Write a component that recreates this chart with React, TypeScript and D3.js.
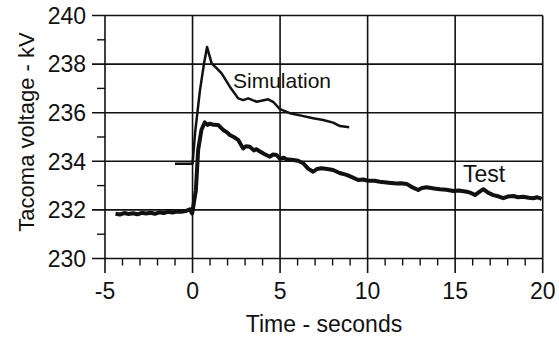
import React from "react";
import * as d3 from "d3";

// Simulation trace (time in s, voltage in kV)
const simTime = [-1, 0, 0.15, 0.42, 0.65, 0.83, 1.09, 1.37, 1.66, 2.13, 2.61, 2.89, 3.18, 3.66, 4.0, 4.32, 4.6, 4.99, 5.56, 6.2, 6.89, 7.46, 8.03, 8.42, 8.95];
const simVoltage = [233.9, 233.9, 235.2, 236.9, 238.0, 238.7, 238.03, 237.83, 237.62, 237.07, 236.59, 236.52, 236.59, 236.45, 236.5, 236.55, 236.45, 236.15, 235.98, 235.88, 235.77, 235.7, 235.59, 235.45, 235.4];

// Test (measured) trace
const testTime = [
  -4.4, -4.15, -3.9, -3.65, -3.4, -3.15, -2.9, -2.65, -2.4, -2.15, -1.9, -1.65, -1.4, -1.15, -0.9, -0.65, -0.4, -0.15, -0.02,
  0.1, 0.19, 0.32, 0.51, 0.7, 0.85, 0.99, 1.2, 1.46, 1.6, 1.75, 1.95, 2.13, 2.35, 2.61, 2.75, 2.89, 3.05, 3.27, 3.5, 3.65, 3.85,
  4.1, 4.42, 4.6, 4.8, 5.0, 5.2, 5.37, 5.75, 6.03, 6.32, 6.6, 6.89, 7.1, 7.37, 7.7, 8.03, 8.4, 8.8, 9.1, 9.46, 9.75, 10.03,
  10.4, 10.7, 11.2, 11.66, 11.9, 12.23, 12.5, 12.89, 13.1, 13.37, 13.8, 14.13, 14.5, 14.89, 15.2, 15.66, 15.9, 16.13, 16.4,
  16.61, 16.9, 17.18, 17.5, 17.75, 18.0, 18.32, 18.6, 18.89, 19.2, 19.46, 19.7, 19.94,
];
const testVoltage = [
  231.84, 231.81, 231.87, 231.83, 231.86, 231.82, 231.88, 231.85, 231.88, 231.84, 231.9, 231.87, 231.92, 231.89, 231.93, 231.92, 231.95, 232.02, 231.85,
  232.4, 232.8, 234.47, 235.3, 235.6, 235.5, 235.55, 235.5, 235.49, 235.4, 235.29, 235.2, 235.08, 235.0, 234.88, 234.7, 234.53, 234.62, 234.6, 234.45, 234.5, 234.4,
  234.3, 234.19, 234.28, 234.26, 234.1, 234.15, 234.08, 234.05, 234.02, 233.92, 233.7, 233.57, 233.68, 233.71, 233.68, 233.64, 233.52, 233.44, 233.35, 233.23, 233.25, 233.2,
  233.2, 233.16, 233.12, 233.09, 233.1, 233.07, 232.95, 232.82, 232.9, 232.93, 232.88, 232.85, 232.83, 232.78, 232.8, 232.75, 232.7, 232.61, 232.75,
  232.85, 232.7, 232.61, 232.55, 232.48, 232.55, 232.57, 232.52, 232.54, 232.5, 232.48, 232.52, 232.45,
];

const xTicks = [-5, 0, 5, 10, 15, 20];
const yTicks = [230, 232, 234, 236, 238, 240];

const font = "'Liberation Sans', Arial, sans-serif";
const ink = "#111";

export default function App() {
  const width = 559,
    height = 337;
  const x = d3.scaleLinear().domain([-5, 20]).range([105, 542.7]);
  const y = d3.scaleLinear().domain([230, 240]).range([258.5, 15.5]);

  const line = d3
    .line<[number, number]>()
    .x((d) => x(d[0]))
    .y((d) => y(d[1]));

  const sim = simTime.map((t, i) => [t, simVoltage[i]] as [number, number]);
  const test = testTime.map((t, i) => [t, testVoltage[i]] as [number, number]);

  const minorX = d3.range(-5, 21, 1).filter((v) => v % 5 !== 0);
  const minorY = d3.range(231, 240, 2);

  return (
    <svg
      width={width}
      height={height}
      style={{ position: "absolute", left: 0, top: 0, background: "#fff" }}
    >
      {/* horizontal grid + major y ticks */}
      {yTicks.map((v) => (
        <line key={"h" + v} x1={92} x2={x(20)} y1={y(v)} y2={y(v)} stroke={ink} strokeWidth={1.6} />
      ))}
      {/* vertical grid + major x ticks */}
      {xTicks.map((v) => (
        <line key={"v" + v} x1={x(v)} x2={x(v)} y1={y(240)} y2={273} stroke={ink} strokeWidth={1.6} />
      ))}
      {minorY.map((v) => (
        <line key={"my" + v} x1={97} x2={x(-5)} y1={y(v)} y2={y(v)} stroke={ink} strokeWidth={1.4} />
      ))}
      {minorX.map((v) => (
        <line key={"mx" + v} x1={x(v)} x2={x(v)} y1={y(230)} y2={265.5} stroke={ink} strokeWidth={1.4} />
      ))}

      {/* tick labels */}
      {yTicks.map((v) => (
        <text key={"yl" + v} x={86} y={y(v)} dy="0.36em" textAnchor="end" fontFamily={font} fontSize={23} fill={ink}>
          {v}
        </text>
      ))}
      {xTicks.map((v) => (
        <text key={"xl" + v} x={x(v)} y={299} textAnchor="middle" fontFamily={font} fontSize={23} fill={ink}>
          {v}
        </text>
      ))}

      {/* axis titles */}
      <text x={324} y={332} textAnchor="middle" fontFamily={font} fontSize={23} fill={ink}>
        Time - seconds
      </text>
      <text
        transform={`translate(34,132) rotate(-90)`}
        textAnchor="middle"
        fontFamily={font}
        fontSize={22}
        fill={ink}
      >
        Tacoma voltage - kV
      </text>

      {/* traces */}
      <path d={line(sim) ?? ""} fill="none" stroke={ink} strokeWidth={2.5} strokeLinejoin="round" />
      <path d={line(test) ?? ""} fill="none" stroke={ink} strokeWidth={4} strokeLinejoin="round" />

      {/* series labels */}
      <text x={233} y={88} fontFamily={font} fontSize={21} fill={ink}>
        Simulation
      </text>
      <text x={463} y={182} fontFamily={font} fontSize={23} fill={ink}>
        Test
      </text>
    </svg>
  );
}
